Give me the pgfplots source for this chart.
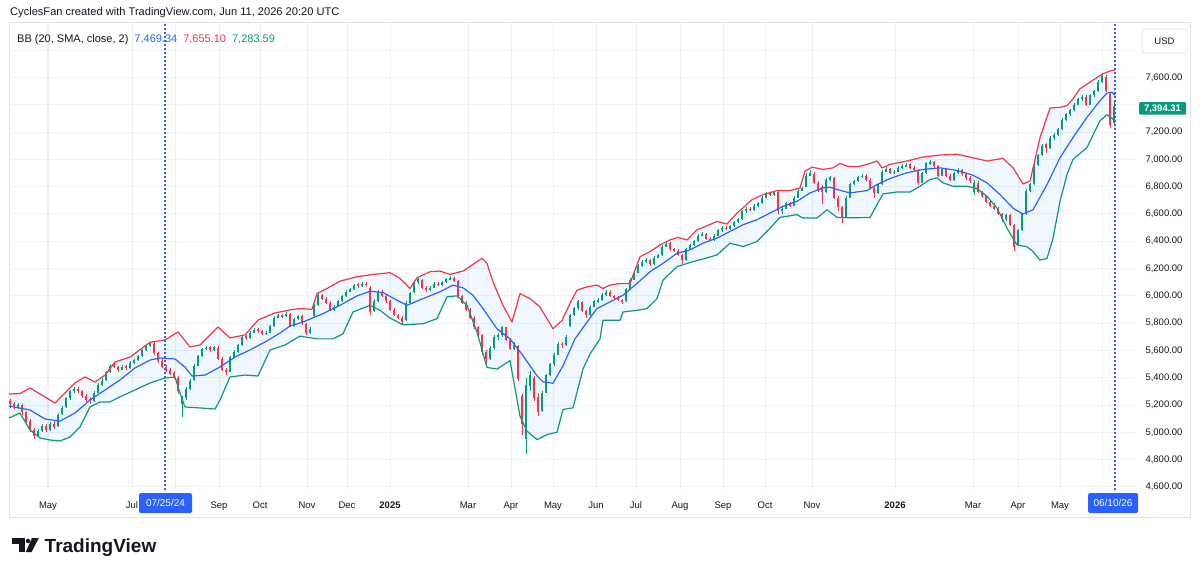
\documentclass[border=0pt]{standalone}
\usepackage{pgfplots}
\pgfplotsset{compat=1.18}
\usepackage{pgfplotstable}
\usepackage{fontspec}
\setmainfont{Liberation Sans}
\definecolor{tvred}{HTML}{F23645}
\definecolor{tvblue}{HTML}{2962FF}
\definecolor{tvgreen}{HTML}{089981}
\definecolor{tvtext}{HTML}{131722}
\definecolor{gridc}{HTML}{EEF1F7}
\definecolor{framec}{HTML}{E0E3EB}
\definecolor{bbfill}{HTML}{2196F3}

\pgfplotstableread{
x o h l c
10 5230 5245 5180 5210
14 5210 5225 5170 5190
18 5185 5215 5175 5200
22 5200 5205 5130 5150
26 5150 5160 5060 5080
30 5080 5095 5000 5020
34 5020 5030 4950 4970
38 4975 5025 4965 5010
42 5010 5065 5000 5050
46 5050 5060 5005 5020
50 5020 5075 5010 5060
54 5065 5080 5025 5040
58 5045 5140 5040 5130
62 5135 5195 5125 5180
66 5185 5260 5180 5250
70 5250 5310 5240 5300
74 5300 5335 5290 5320
78 5320 5330 5285 5300
82 5300 5310 5255 5270
86 5270 5280 5225 5240
90 5245 5260 5210 5230
94 5230 5300 5225 5290
98 5290 5360 5285 5350
102 5350 5395 5340 5380
106 5385 5450 5380 5440
110 5440 5500 5435 5490
114 5495 5505 5470 5480
118 5480 5490 5445 5460
122 5460 5495 5455 5480
126 5485 5495 5460 5470
130 5470 5520 5465 5510
134 5510 5540 5500 5530
138 5530 5570 5525 5560
142 5560 5610 5555 5600
146 5600 5640 5595 5630
150 5630 5665 5625 5655
154 5650 5660 5570 5580
158 5580 5590 5510 5520
162 5525 5540 5470 5480
166 5480 5495 5440 5450
170 5455 5470 5420 5430
174 5435 5450 5390 5400
178 5400 5410 5280 5300
182 5210 5270 5110 5250
186 5250 5330 5240 5320
190 5320 5390 5310 5380
194 5385 5500 5380 5490
198 5490 5570 5485 5560
202 5560 5620 5555 5610
206 5610 5630 5600 5620
210 5625 5635 5590 5600
214 5600 5635 5595 5625
218 5620 5630 5530 5540
222 5540 5550 5450 5460
226 5460 5470 5420 5440
230 5445 5560 5440 5550
234 5550 5600 5545 5590
238 5590 5650 5585 5640
242 5640 5710 5635 5700
246 5705 5715 5680 5690
250 5690 5740 5685 5730
254 5730 5765 5725 5750
258 5755 5765 5730 5740
262 5740 5750 5710 5720
266 5720 5740 5715 5730
270 5730 5790 5725 5780
274 5780 5850 5775 5840
278 5840 5870 5835 5860
282 5860 5870 5840 5850
286 5850 5880 5845 5870
290 5865 5875 5770 5780
294 5780 5840 5775 5830
298 5830 5860 5820 5850
302 5850 5860 5790 5800
306 5795 5805 5715 5730
310 5730 5775 5720 5760
314 5850 5940 5845 5930
318 5930 6020 5925 6010
322 6010 6015 5970 5980
326 5980 5990 5940 5950
330 5950 5960 5890 5900
334 5900 5930 5890 5920
338 5920 5970 5915 5960
342 5960 6010 5955 6000
346 6000 6040 5995 6030
350 6030 6060 6025 6050
354 6050 6090 6045 6080
358 6085 6095 6060 6070
362 6070 6100 6065 6090
366 6090 6100 6070 6080
370 6060 6070 5860 5880
374 5890 5980 5880 5960
378 5960 6040 5955 6030
382 6030 6040 5990 6000
386 6000 6010 5950 5960
390 5960 5970 5890 5900
394 5900 5910 5850 5860
398 5860 5870 5830 5840
402 5840 5850 5790 5810
406 5820 5960 5815 5950
410 5950 6030 5945 6020
414 6025 6110 6020 6100
418 6100 6130 6090 6120
422 6115 6125 6050 6060
426 6060 6070 6030 6040
430 6040 6070 6035 6060
434 6060 6100 6055 6090
438 6090 6100 6070 6080
442 6080 6110 6075 6100
446 6100 6130 6095 6120
450 6120 6145 6115 6130
454 6130 6140 6100 6110
458 6110 6115 5990 6000
462 6000 6010 5940 5950
466 5950 5960 5890 5900
470 5900 5910 5830 5840
474 5840 5850 5760 5770
478 5770 5780 5700 5720
482 5710 5720 5570 5590
486 5590 5600 5500 5540
490 5540 5630 5530 5620
494 5620 5710 5610 5700
498 5700 5730 5680 5710
502 5710 5780 5700 5770
506 5770 5775 5670 5680
510 5680 5690 5600 5610
514 5610 5660 5600 5640
518 5630 5640 5380 5390
522 5270 5280 4980 5060
526 4950 5400 4840 5350
530 5340 5450 5300 5420
534 5400 5410 5230 5250
538 5260 5290 5120 5150
542 5160 5300 5150 5290
546 5290 5430 5285 5420
550 5420 5510 5410 5500
554 5500 5580 5490 5570
558 5570 5660 5565 5650
562 5650 5660 5620 5640
566 5640 5710 5630 5700
570 5780 5870 5770 5860
574 5860 5920 5850 5910
578 5910 5970 5900 5960
582 5955 5960 5880 5890
586 5890 5900 5840 5860
590 5860 5930 5855 5920
594 5920 5970 5915 5960
598 5960 5985 5950 5970
602 5970 6020 5965 6010
606 6010 6045 6000 6030
610 6030 6040 5990 6000
614 6000 6010 5980 5990
618 5990 6000 5960 5970
622 5970 5980 5940 5960
626 5960 6060 5955 6050
630 6050 6130 6045 6120
634 6120 6180 6115 6170
638 6170 6230 6165 6220
642 6220 6260 6215 6250
646 6250 6275 6240 6260
650 6260 6270 6220 6230
654 6230 6290 6225 6280
658 6280 6310 6275 6300
662 6300 6370 6295 6360
666 6360 6395 6355 6380
670 6385 6395 6330 6340
674 6340 6350 6320 6330
678 6330 6340 6290 6300
682 6300 6310 6230 6260
686 6260 6350 6255 6340
690 6340 6380 6335 6370
694 6370 6410 6365 6400
698 6400 6450 6395 6440
702 6440 6470 6435 6450
706 6450 6460 6410 6420
710 6420 6430 6400 6410
714 6410 6450 6405 6440
718 6440 6490 6435 6480
722 6480 6510 6470 6500
726 6500 6510 6480 6490
730 6490 6520 6485 6510
734 6510 6550 6505 6540
738 6540 6570 6535 6560
742 6560 6630 6555 6620
746 6620 6650 6610 6640
750 6640 6650 6620 6630
754 6630 6670 6625 6660
758 6660 6690 6650 6680
762 6680 6730 6675 6720
766 6720 6760 6715 6750
770 6750 6760 6730 6740
774 6740 6770 6735 6760
778 6760 6770 6600 6620
782 6620 6650 6600 6640
786 6640 6690 6635 6680
790 6680 6690 6650 6660
794 6660 6730 6655 6720
798 6720 6780 6715 6770
802 6770 6800 6765 6790
806 6800 6900 6795 6880
810 6880 6920 6875 6900
814 6895 6905 6820 6830
818 6830 6840 6760 6770
822 6800 6810 6670 6760
826 6760 6860 6755 6850
830 6850 6880 6840 6870
834 6860 6870 6710 6720
838 6720 6730 6620 6650
842 6650 6660 6535 6580
846 6580 6730 6575 6720
850 6720 6830 6715 6820
854 6820 6850 6810 6840
858 6840 6880 6835 6870
862 6870 6895 6860 6880
866 6880 6890 6840 6850
870 6850 6860 6780 6790
874 6790 6800 6720 6750
878 6750 6830 6745 6820
882 6820 6920 6815 6910
886 6910 6945 6905 6930
890 6930 6940 6890 6900
894 6900 6925 6890 6910
898 6910 6950 6905 6940
902 6940 6965 6930 6950
906 6950 6975 6945 6960
910 6965 6975 6930 6940
914 6940 6950 6910 6920
918 6920 6930 6810 6830
922 6830 6910 6825 6900
926 6900 6980 6895 6970
930 6970 6995 6960 6980
934 6980 6990 6940 6950
938 6950 6960 6870 6880
942 6880 6940 6875 6930
946 6930 6940 6870 6880
950 6880 6890 6840 6850
954 6850 6910 6845 6900
958 6900 6935 6895 6920
962 6920 6930 6880 6890
966 6890 6900 6850 6860
970 6860 6875 6830 6840
974 6760 6850 6740 6830
978 6830 6840 6750 6760
982 6760 6770 6720 6730
986 6730 6740 6680 6690
990 6690 6700 6650 6660
994 6660 6680 6630 6640
998 6640 6650 6590 6600
1002 6600 6610 6540 6560
1006 6560 6600 6550 6590
1010 6590 6600 6510 6520
1014 6520 6530 6330 6360
1018 6370 6490 6365 6480
1022 6480 6610 6475 6600
1026 6600 6780 6595 6770
1030 6770 6830 6760 6820
1034 6820 6970 6815 6960
1038 6960 7040 6955 7030
1042 7030 7110 7025 7100
1046 7110 7120 7050 7080
1050 7080 7170 7075 7160
1054 7160 7190 7140 7180
1058 7180 7230 7170 7220
1062 7220 7300 7215 7290
1066 7290 7340 7280 7330
1070 7330 7370 7320 7360
1074 7360 7410 7355 7400
1078 7400 7450 7395 7440
1082 7440 7470 7430 7460
1086 7460 7470 7390 7400
1090 7400 7480 7395 7470
1094 7470 7510 7460 7500
1098 7500 7580 7495 7570
1102 7570 7625 7560 7610
1106 7600 7615 7490 7500
1110 7480 7490 7230 7250
1114 7270 7420 7250 7394.31
}\candles

\pgfplotstableread{
x y
9 5281
20 5285
30 5325
45 5260
55 5215
65 5289
75 5362
85 5406
95 5369
105 5420
115 5516
130 5552
150 5660
165 5677
178 5736
190 5626
200 5640
218 5772
230 5692
245 5714
258 5823
275 5875
290 5897
300 5907
312 5902
317 6017
327 6054
340 6108
357 6140
373 6157
390 6170
400 6128
410 6054
417 6133
430 6177
440 6182
450 6157
463 6182
472 6226
482 6276
487 6237
493 6103
503 5931
512 5808
520 6017
530 5980
540 5919
553 5759
562 5820
570 5945
577 6042
587 6066
597 6079
603 6054
610 6079
620 6091
630 6091
640 6287
650 6324
660 6373
670 6410
678 6428
687 6410
697 6484
703 6501
717 6545
727 6526
737 6607
743 6644
752 6705
763 6742
777 6771
790 6771
800 6791
805 6914
812 6943
823 6926
833 6938
840 6970
847 6950
857 6945
867 6963
877 6988
882 6938
890 6963
907 6988
923 7017
940 7032
957 7037
973 7012
987 6988
997 7000
1003 7007
1013 6938
1023 6820
1030 6840
1040 7160
1050 7376
1060 7381
1067 7394
1073 7443
1080 7517
1090 7566
1103 7627
1110 7647
1115 7655.10
}\bbup

\pgfplotstableread{
x y
9 5193
30 5164
45 5098
60 5083
75 5142
90 5237
105 5311
120 5384
135 5472
150 5530
160 5545
175 5538
185 5479
192 5413
205 5420
220 5479
235 5552
250 5604
265 5662
280 5728
290 5779
303 5808
323 5870
340 5931
357 6000
370 6034
383 6025
397 5968
407 5931
423 5980
440 6030
453 6079
463 6059
473 6005
483 5907
497 5759
510 5685
523 5562
537 5414
543 5370
553 5360
563 5488
575 5685
587 5808
597 5907
610 5956
623 6005
637 6091
650 6177
663 6238
677 6312
690 6337
703 6386
717 6423
730 6472
743 6521
757 6558
770 6607
783 6656
797 6693
810 6754
823 6791
830 6796
837 6779
850 6754
867 6771
877 6815
890 6860
907 6902
923 6926
940 6938
957 6919
973 6884
987 6828
1000 6742
1013 6643
1023 6599
1033 6631
1047 6815
1060 7012
1073 7160
1087 7308
1100 7430
1107 7485
1112 7492
1115 7469.34
}\bbmid

\pgfplotstableread{
x y
9 5105
20 5142
30 5018
40 4959
50 4944
60 4937
70 4966
80 5040
90 5186
100 5223
110 5223
120 5260
135 5311
150 5362
165 5398
175 5406
180 5289
185 5186
200 5179
215 5171
220 5237
230 5406
245 5420
258 5413
270 5604
285 5640
300 5705
317 5685
333 5685
343 5722
353 5882
370 5931
380 5894
390 5838
403 5788
423 5796
437 5833
447 5993
457 6000
467 5931
477 5734
487 5476
497 5464
510 5525
520 5119
527 5009
537 4947
547 4984
557 5001
563 5168
573 5180
583 5464
590 5574
600 5685
603 5821
620 5821
623 5882
637 5894
647 5907
657 5980
663 6115
677 6214
693 6251
703 6270
717 6300
730 6386
743 6361
757 6398
770 6496
780 6575
797 6595
803 6570
817 6570
827 6631
837 6575
850 6572
870 6574
877 6668
883 6747
897 6761
910 6761
920 6803
930 6852
937 6865
943 6828
953 6803
967 6803
977 6786
987 6729
997 6643
1007 6496
1017 6373
1027 6360
1033 6324
1040 6262
1047 6274
1053 6422
1060 6692
1067 6889
1073 7000
1087 7086
1100 7283
1107 7327
1115 7283.59
}\bblo

% band area: upper band left to right, then lower band right to left
\pgfplotstableread{
x y
9 5281
20 5285
30 5325
45 5260
55 5215
65 5289
75 5362
85 5406
95 5369
105 5420
115 5516
130 5552
150 5660
165 5677
178 5736
190 5626
200 5640
218 5772
230 5692
245 5714
258 5823
275 5875
290 5897
300 5907
312 5902
317 6017
327 6054
340 6108
357 6140
373 6157
390 6170
400 6128
410 6054
417 6133
430 6177
440 6182
450 6157
463 6182
472 6226
482 6276
487 6237
493 6103
503 5931
512 5808
520 6017
530 5980
540 5919
553 5759
562 5820
570 5945
577 6042
587 6066
597 6079
603 6054
610 6079
620 6091
630 6091
640 6287
650 6324
660 6373
670 6410
678 6428
687 6410
697 6484
703 6501
717 6545
727 6526
737 6607
743 6644
752 6705
763 6742
777 6771
790 6771
800 6791
805 6914
812 6943
823 6926
833 6938
840 6970
847 6950
857 6945
867 6963
877 6988
882 6938
890 6963
907 6988
923 7017
940 7032
957 7037
973 7012
987 6988
997 7000
1003 7007
1013 6938
1023 6820
1030 6840
1040 7160
1050 7376
1060 7381
1067 7394
1073 7443
1080 7517
1090 7566
1103 7627
1110 7647
1115 7655.10
1115 7283.59
1107 7327
1100 7283
1087 7086
1073 7000
1067 6889
1060 6692
1053 6422
1047 6274
1040 6262
1033 6324
1027 6360
1017 6373
1007 6496
997 6643
987 6729
977 6786
967 6803
953 6803
943 6828
937 6865
930 6852
920 6803
910 6761
897 6761
883 6747
877 6668
870 6574
850 6572
837 6575
827 6631
817 6570
803 6570
797 6595
780 6575
770 6496
757 6398
743 6361
730 6386
717 6300
703 6270
693 6251
677 6214
663 6115
657 5980
647 5907
637 5894
623 5882
620 5821
603 5821
600 5685
590 5574
583 5464
573 5180
563 5168
557 5001
547 4984
537 4947
527 5009
520 5119
510 5525
497 5464
487 5476
477 5734
467 5931
457 6000
447 5993
437 5833
423 5796
403 5788
390 5838
380 5894
370 5931
353 5882
343 5722
333 5685
317 5685
300 5705
285 5640
270 5604
258 5413
245 5420
230 5406
220 5237
215 5171
200 5179
185 5186
180 5289
175 5406
165 5398
150 5362
135 5311
120 5260
110 5223
100 5223
90 5186
80 5040
70 4966
60 4937
50 4944
40 4959
30 5018
20 5142
9 5105
}\bbarea

\begin{document}
\begin{tikzpicture}[x=1pt,y=1pt]
\fill[white] (0,0) rectangle (1200,574);
% frame
\draw[framec, line width=1pt] (9,57) rectangle (1190,551);
\begin{axis}[
  at={(9pt,84pt)}, anchor=south west,
  width=1127pt, height=467pt, scale only axis,
  xmin=9, xmax=1136, ymin=4578, ymax=7999,
  axis line style={draw=none},
  major tick length=0pt,
  xtick={48,132,175,219,260,307,347,390,468,511,553,596,636,680,723,765,812,895,973,1018,1060,1102},
  xticklabels={May,Jul,,Sep,Oct,Nov,Dec,\textbf{2025},Mar,Apr,May,Jun,Jul,Aug,Sep,Oct,Nov,\textbf{2026},Mar,Apr,May,},
  ytick={4600,4800,...,7800},
  yticklabels={{4,600.00},{4,800.00},{5,000.00},{5,200.00},{5,400.00},{5,600.00},{5,800.00},{6,000.00},{6,200.00},{6,400.00},{6,600.00},{6,800.00},{7,000.00},{7,200.00},{},{7,600.00},{}},
  yticklabel pos=right,
  xticklabel style={font=\fontsize{9.5}{11}\selectfont, text=tvtext, anchor=base, yshift=-18.5pt},
  yticklabel style={font=\fontsize{9.5}{11}\selectfont, text=tvtext, anchor=center, xshift=28pt},
  grid=major,
  major grid style={draw=gridc, line width=1pt},
  clip=true,
]
% band background
\addplot[fill=bbfill, fill opacity=0.065, draw=none, mark=none, forget plot] table[x=x,y=y] {\bbarea};
% candle wicks, up
\addplot[draw=none, mark=none, forget plot,
  restrict expr to domain={\thisrow{c}-\thisrow{o}}{0:100000},
  error bars/.cd, y dir=both, y explicit, error mark=none,
  error bar style={draw=tvgreen, line width=0.8pt, solid}]
  table[x=x, y expr={0.5*(\thisrow{h}+\thisrow{l})}, y error expr={0.5*(\thisrow{h}-\thisrow{l})}] {\candles};
% candle bodies, up
\addplot[draw=none, mark=none, forget plot,
  restrict expr to domain={\thisrow{c}-\thisrow{o}}{0:100000},
  error bars/.cd, y dir=both, y explicit, error mark=none,
  error bar style={draw=tvgreen, line width=2.2pt, solid}]
  table[x=x, y expr={0.5*(\thisrow{o}+\thisrow{c})}, y error expr={0.5*abs(\thisrow{c}-\thisrow{o})}] {\candles};
% candle wicks, down
\addplot[draw=none, mark=none, forget plot,
  restrict expr to domain={\thisrow{o}-\thisrow{c}}{0.001:100000},
  error bars/.cd, y dir=both, y explicit, error mark=none,
  error bar style={draw=tvred, line width=0.8pt, solid}]
  table[x=x, y expr={0.5*(\thisrow{h}+\thisrow{l})}, y error expr={0.5*(\thisrow{h}-\thisrow{l})}] {\candles};
% candle bodies, down
\addplot[draw=none, mark=none, forget plot,
  restrict expr to domain={\thisrow{o}-\thisrow{c}}{0.001:100000},
  error bars/.cd, y dir=both, y explicit, error mark=none,
  error bar style={draw=tvred, line width=2.2pt, solid}]
  table[x=x, y expr={0.5*(\thisrow{o}+\thisrow{c})}, y error expr={0.5*abs(\thisrow{c}-\thisrow{o})}] {\candles};
% bands
\addplot[tvred, line width=1.2pt, mark=none, line join=round] table[x=x,y=y] {\bbup};
\addplot[tvblue, line width=1.2pt, mark=none, line join=round] table[x=x,y=y] {\bbmid};
\addplot[tvgreen, line width=1.2pt, mark=none, line join=round] table[x=x,y=y] {\bblo};
% crosshair dotted lines
\draw[tvblue, line width=1.1pt, dash pattern=on 2pt off 2pt] (axis cs:165,4578) -- (axis cs:165,7999);
\draw[tvblue, line width=1.1pt, dash pattern=on 2pt off 2pt] (axis cs:1115,4578) -- (axis cs:1115,7999);
\end{axis}
% title and legend
\node[anchor=west, inner sep=0, text=tvtext, font=\fontsize{11.1}{13}\selectfont] at (10,561) {CyclesFan created with TradingView.com, Jun 11, 2026 20:20 UTC};
\node[anchor=west, inner sep=0, font=\fontsize{11}{13}\selectfont] at (17,534) {\textcolor{tvtext}{BB (20, SMA, close, 2)}\hspace{6pt}\textcolor{tvblue}{7,469.34}\hspace{6pt}\textcolor{tvred}{7,655.10}\hspace{6pt}\textcolor{tvgreen}{7,283.59}};
% USD box
\draw[framec, line width=0.8pt, fill=white, rounded corners=3pt] (1142,521) rectangle (1187,545);
\node[text=tvtext, font=\fontsize{9.5}{11}\selectfont] at (1164.5,533) {USD};
% last price tag
\node[fill=tvgreen, text=white, font=\bfseries\fontsize{9.5}{11}\selectfont, minimum width=47pt, minimum height=12.5pt, inner sep=0, rounded corners=1pt] at (1162.5,465.5) {7,394.31};
% date boxes
\node[fill=tvblue, text=white, font=\fontsize{10}{12}\selectfont, minimum width=53pt, minimum height=20pt, inner sep=0, rounded corners=1.5pt] at (165.5,71) {07/25/24};
\node[fill=tvblue, text=white, font=\fontsize{10}{12}\selectfont, minimum width=50pt, minimum height=20pt, inner sep=0, rounded corners=1.5pt] at (1113,71) {06/10/26};
% TradingView logo
\fill[tvtext] (12,36) rectangle (25,30);
\fill[tvtext] (19,36) rectangle (25,22);
\fill[tvtext] (28,33) circle (2.2);
\fill[tvtext] (32,36) -- (38.8,36) -- (31.6,22) -- (25.8,22) -- cycle;
\node[anchor=base west, inner sep=0, text=tvtext, font=\bfseries\fontsize{19}{22}\selectfont] at (44.5,22) {TradingView};
\end{tikzpicture}
\end{document}
